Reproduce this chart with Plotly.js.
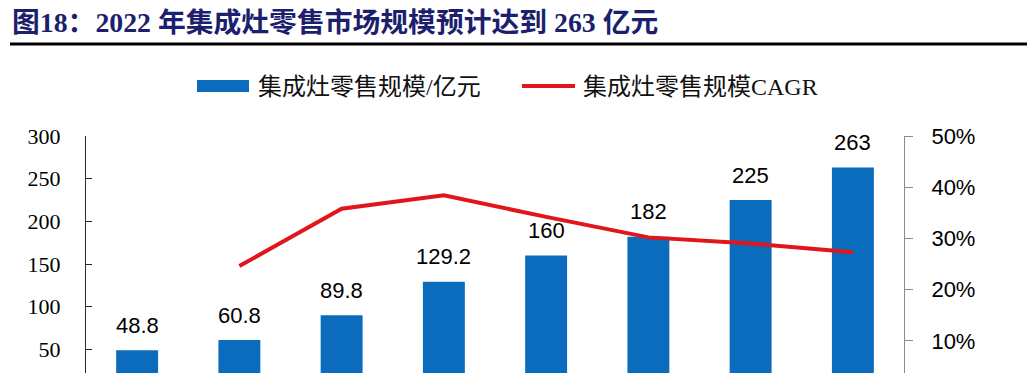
<!DOCTYPE html>
<html>
<head>
<meta charset="utf-8">
<script src="https://cdn.plot.ly/plotly-3.0.1.min.js"></script>
<style>
html,body{margin:0;padding:0;background:#fff;overflow:hidden;}
#chart{width:1034px;height:430px;}
</style>
</head>
<body>
<div id="chart"></div>
<script>
// Data
const years = ["2015年","2016年","2017年","2018年","2019年","2020年","2021年","2022年E"];
const retailScale = [48.8, 60.8, 89.8, 129.2, 160, 182, 225, 263]; // 亿元
const cagr = [null, 0.246, 0.358, 0.384, 0.342, 0.302, 0.290, 0.273];
const barLabels = ["48.8","60.8","89.8","129.2","160","182","225","263"];
const leftTicks = [50, 100, 150, 200, 250, 300];
const rightTicks = [0.1, 0.2, 0.3, 0.4, 0.5];
const seriesNames = ["集成灶零售规模/亿元", "集成灶零售规模CAGR"];
const titleText = "图18：2022 年集成灶零售市场规模预计达到 263 亿元";

const W = 1034, H = 430;
const L = 86, R = 130, T = 136, B = 38;
const pw = W - L - R, ph = H - T - B;
const px = x => (x - L) / pw;
const py = y => (H - B - y) / ph;

const blue = "#0b6cbd";
const red = "#e1151c";
const serif = "'Liberation Serif', 'Times New Roman', 'Noto Sans CJK SC', serif";
const sans = "'Liberation Sans', Arial, 'Noto Sans CJK SC', sans-serif";

const traces = [
  {
    type: "bar",
    x: years,
    y: retailScale,
    name: seriesNames[0],
    marker: {color: blue},
    hoverinfo: "skip"
  },
  {
    type: "scatter",
    mode: "lines",
    x: years,
    y: cagr,
    yaxis: "y2",
    name: seriesNames[1],
    line: {color: red, width: 4},
    hoverinfo: "skip"
  }
];

const annotations = years.map((yr, i) => ({
  x: i, y: retailScale[i], xref: "x", yref: "y",
  text: barLabels[i], showarrow: false,
  yanchor: "middle", yshift: 25,
  font: {family: sans, size: 22, color: "#000"}
}));

// custom legend texts
annotations.push({
  xref: "paper", yref: "paper", x: px(256), y: py(87),
  xanchor: "left", yanchor: "middle", showarrow: false,
  text: seriesNames[0], font: {family: serif, size: 24, color: "#111"}
});
annotations.push({
  xref: "paper", yref: "paper", x: px(581), y: py(87),
  xanchor: "left", yanchor: "middle", showarrow: false,
  text: seriesNames[1], font: {family: serif, size: 24, color: "#111"}
});

const shapes = [
  // title underline
  {type: "line", xref: "paper", yref: "paper", x0: px(10), x1: px(1027), y0: py(44), y1: py(44),
   line: {color: "#000", width: 3}},
  // legend: bar swatch
  {type: "rect", xref: "paper", yref: "paper", x0: px(197), x1: px(249), y0: py(92), y1: py(80),
   line: {width: 0}, fillcolor: blue},
  // legend: line swatch
  {type: "line", xref: "paper", yref: "paper", x0: px(522), x1: px(575), y0: py(86), y1: py(86),
   line: {color: red, width: 4}}
];

const layout = {
  width: W, height: H,
  margin: {l: L, r: R, t: T, b: B, pad: 0},
  paper_bgcolor: "#fff", plot_bgcolor: "#fff",
  showlegend: false,
  bargap: 0.59,
  title: {
    text: "<b>" + titleText + "</b>",
    xref: "container", yref: "container",
    x: 12 / W, xanchor: "left",
    y: 1 - 22 / H, yanchor: "middle",
    font: {family: "'Liberation Serif', 'Noto Sans CJK SC', serif", size: 27.8, color: "#1c1f6e"}
  },
  xaxis: {
    type: "category",
    range: [-0.5, years.length - 0.5],
    showgrid: false, zeroline: false,
    showline: true, linecolor: "#262626", linewidth: 1,
    ticks: "", showticklabels: false
  },
  yaxis: {
    range: [0, 300],
    tickmode: "array", tickvals: leftTicks, ticktext: leftTicks.map(String),
    showgrid: false, zeroline: false,
    showline: true, linecolor: "#262626", linewidth: 1,
    ticks: "inside", ticklen: 6, tickcolor: "#262626", tickwidth: 1,
    ticklabelstandoff: 20,
    tickfont: {family: serif, size: 22, color: "#000"}
  },
  yaxis2: {
    overlaying: "y", side: "right",
    range: [0, 0.5],
    tickmode: "array", tickvals: rightTicks, ticktext: rightTicks.map(v => Math.round(v * 100) + "%"),
    showgrid: false, zeroline: false,
    showline: true, linecolor: "#8a8a8a", linewidth: 1,
    ticks: "outside", ticklen: 8, tickcolor: "#8a8a8a", tickwidth: 1,
    ticklabelstandoff: 14,
    tickfont: {family: sans, size: 22, color: "#000"}
  },
  annotations: annotations,
  shapes: shapes
};

Plotly.newPlot("chart", traces, layout, {staticPlot: true, displayModeBar: false});
</script>
</body>
</html>
